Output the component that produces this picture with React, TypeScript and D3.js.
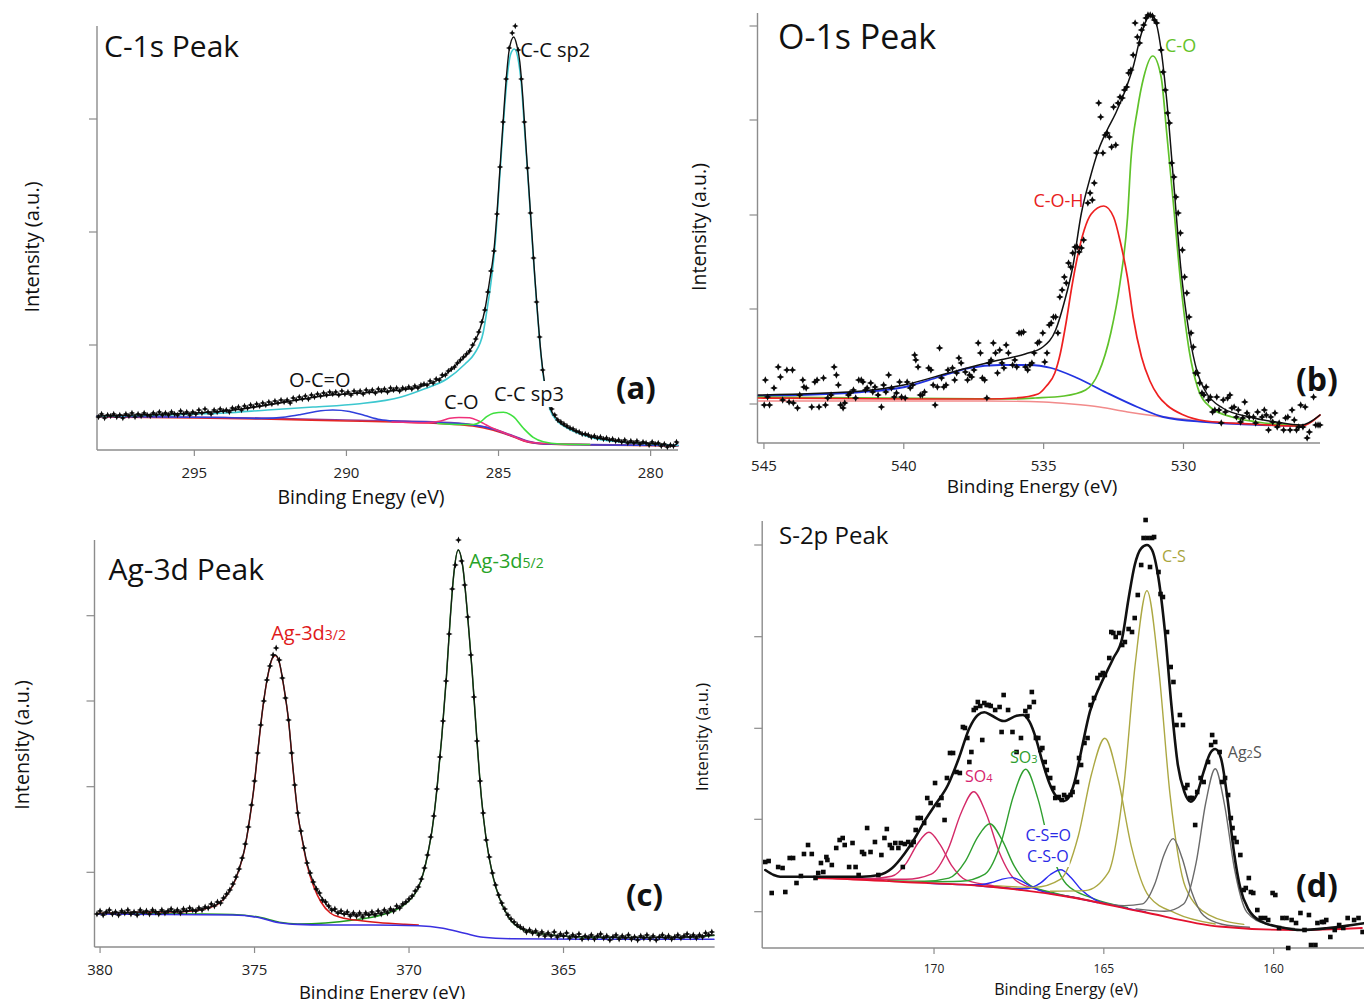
import React, { useEffect, useRef } from "react";
import * as d3 from "d3";

type Pt = [number, number];

const FONT = "'Open Sans', 'Noto Sans', 'DejaVu Sans', sans-serif";

/* ================= (a) C 1s ================= */
const c1sTickEnergies = [295, 290, 285, 280];
const c1sTickLevels = [105, 218, 331];

const c1sScan: Pt[] = [
  [298.15,33],[298.05,36],[297.95,32],[297.85,35],[297.75,34],[297.65,36],[297.55,33],[297.45,35],[297.35,32],[297.25,36],
  [297.15,34],[297.05,37],[296.95,33],[296.85,36],[296.75,34],[296.65,37],[296.55,35],[296.45,34],[296.35,37],[296.25,35],
  [296.15,38],[296.05,35],[295.95,37],[295.85,35],[295.75,38],[295.65,36],[295.55,35],[295.45,39],[295.35,36],[295.25,38],
  [295.15,35],[295.05,38],[294.95,36],[294.85,40],[294.75,37],[294.65,41],[294.55,38],[294.45,36],[294.35,40],[294.25,38],
  [294.15,41],[294.05,39],[293.95,40],[293.85,38],[293.75,42],[293.65,41],[293.55,43],[293.45,40],[293.35,44],[293.25,42],
  [293.15,45],[293.05,43],[292.95,46],[292.85,44],[292.75,47],[292.65,45],[292.55,48],[292.45,46],[292.35,49],[292.25,47],
  [292.15,50],[292.05,48],[291.95,50],[291.85,47],[291.75,52],[291.65,50],[291.55,53],[291.45,51],[291.35,54],[291.25,51],
  [291.15,55],[291.05,53],[290.95,56],[290.85,54],[290.75,57],[290.65,55],[290.55,58],[290.45,56],[290.35,58],[290.25,55],
  [290.15,59],[290.05,56],[289.95,58],[289.85,55],[289.75,59],[289.65,57],[289.55,59],[289.45,56],[289.35,60],[289.25,58],
  [289.15,60],[289.05,57],[288.95,61],[288.85,59],[288.75,61],[288.65,58],[288.55,62],[288.45,60],[288.35,62],[288.25,59],
  [288.15,62],[288.05,61],[287.95,63],[287.85,61],[287.75,64],[287.65,62],[287.55,65],[287.45,66],[287.35,65],[287.25,69],
  [287.15,67],[287.05,71],[286.95,70],[286.85,75],[286.75,75],[286.65,79],[286.55,81],[286.45,83],[286.35,87],[286.25,90],
  [286.15,93],[286.05,96],[285.95,99],[285.85,105],[285.75,111],[285.65,118],[285.55,128],[285.45,140],[285.35,158],[285.25,179],
  [285.15,199],[285.05,236],[284.95,283],[284.85,328],[284.75,371],[284.65,402],[284.55,417],[284.45,424],[284.35,400],[284.25,371],
  [284.15,328],[284.05,282],[283.95,237],[283.85,192],[283.75,148],[283.65,113],[283.55,80],[283.45,62],[283.35,48],[283.25,41],
  [283.15,35],[283.05,30],[282.95,28],[282.85,26],[282.75,24],[282.65,22],[282.55,21],[282.45,19],[282.35,18],[282.25,16],
  [282.15,16],[282.05,15],[281.95,13],[281.85,14],[281.75,12],[281.65,13],[281.55,11],[281.45,12],[281.35,10],[281.25,11],
  [281.15,9],[281.05,10],[280.95,8],[280.85,10],[280.75,7],[280.65,9],[280.55,7],[280.45,9],[280.35,6],[280.25,8],
  [280.15,7],[280.05,5],[279.95,8],[279.85,6],[279.75,7],[279.65,4],[279.55,6],[279.45,3],[279.35,5],[279.25,4],[279.15,8],
];

const c1sEnvelope: Pt[] = [
  [298.2,34],[297,35],[296,36],[295,37],[294,39],[293,43],[292,48],[291,53],[290.5,55],[290,56],[289,58],[288,61],
  [287.5,64],[287,70],[286.6,79],[286.3,88],[286,97],[285.8,107],[285.6,122],[285.45,140],[285.3,168],[285.15,200],
  [285.05,237],[284.95,283],[284.85,328],[284.75,370],[284.65,400],[284.5,413],[284.4,405],[284.3,388],[284.2,352],
  [284.1,305],[284,260],[283.9,215],[283.8,170],[283.7,130],[283.6,95],[283.5,70],[283.4,54],[283.3,42],[283.1,32],
  [283,28],[282.7,22],[282.4,18],[281.9,13],[281.3,10],[280.8,8],[280.2,7],[279.7,6],[279.3,4],[279.1,7],
];
const c1sSp2: Pt[] = [
  [298.2,33.5],[296,35],[294,37],[292.6,40],[291.1,43],[289.65,46],[288.2,53],[287.45,61],[286.7,71],[286.1,86],
  [285.8,96],[285.5,118],[285.37,142],[285.23,172],[285.1,210],[285,255],[284.9,300],[284.8,343],[284.7,377],
  [284.6,396],[284.48,401],[284.35,390],[284.25,366],[284.15,323],[284.05,280],[283.95,235],[283.85,190],[283.75,148],
  [283.65,110],[283.55,80],[283.45,58],[283.3,40],[283.1,30],[282.8,23],[282.4,17],[281.9,12],[281,8],[280,6],[279.1,4.5],
];
const c1sSp3: Pt[] = [
  [287,26.5],[286.2,25.5],[285.83,25.5],[285.6,28],[285.39,33.3],[285.17,36.7],[284.84,37.7],[284.51,33.3],
  [284.18,21.7],[283.86,12.7],[283.53,8.3],[282.98,6],[282,5.5],
];
const c1sCO: Pt[] = [
  [288.5,28],[287.4,27.3],[286.9,29],[286.6,31.8],[286.3,32.5],[285.95,32.3],[285.65,29],[285.4,25],[285.17,21.5],
  [284.8,17],[284.5,13.5],[284.05,8.5],[283.5,6.5],[282,5.5],
];
const c1sOCO: Pt[] = [
  [298.2,33.5],[294,32.5],[292.8,31.5],[292,33],[291.5,35.5],[291,38.5],[290.45,40],[289.9,38.5],[289.4,34.5],
  [288.9,30.5],[288.45,29],[287.5,28],[286.7,27],[285.85,25],[285.2,21],[284.5,13.5],[284.05,8.5],[283.5,6],[279.1,4.5],
];
const c1sBackground: Pt[] = [
  [298.2,33],[295,32],[292.8,31],[290,29],[288.45,28],[286.7,26],[285.85,24],[285.2,20],[284.5,13],[284.05,8],
  [283.5,6],[281.9,5],[279.1,4],
];
const c1sBackground2: Pt[] = [
  [298.2,34],[292.8,32],[290,30],[287,28],[286,26],[285.2,21.5],[284.5,14],[284.05,9],[283.5,6.5],[281.9,5.5],[279.1,4.5],
];

/* ================= (b) O 1s ================= */
const o1sTickEnergies = [545, 540, 535, 530];
const o1sTickLevels = [39, 134, 228, 323, 417];

const o1sScan: Pt[] = [
  [544.95,63],[544.87,46],[544.99,38],[544.8,38],[544.64,55],[544.49,76],[544.41,66],[544.33,43],[544.18,73],[544.1,41],
  [543.98,73],[543.95,40],[543.8,35],[543.72,48],[543.61,63],[543.57,56],[543.49,55],[543.29,36],[543.18,61],[543.1,63],
  [543.03,36],[542.87,65],[542.8,38],[542.72,45],[542.6,48],[542.49,76],[542.41,68],[542.34,58],[542.26,38],[542.17,35],
  [542.11,40],[541.98,48],[541.92,50],[541.8,53],[541.72,45],[541.61,63],[541.52,63],[541.46,61],[541.37,53],[541.31,55],
  [541.18,60],[541.11,51],[541.03,56],[540.92,48],[540.8,36],[540.72,58],[540.64,51],[540.54,68],[540.44,55],[540.34,46],
  [540.26,50],[540.15,61],[540.08,46],[539.95,45],[539.88,61],[539.77,55],[539.68,58],[539.61,88],[539.57,83],[539.49,76],
  [539.41,48],[539.34,48],[539.26,51],[539.11,75],[539.03,73],[538.95,58],[538.88,38],[538.8,56],[538.72,95],[538.65,65],
  [538.57,56],[538.49,58],[538.42,73],[538.26,75],[538.18,63],[538.11,70],[538.03,85],[537.95,80],[537.8,71],[537.72,63],
  [537.65,68],[537.57,66],[537.49,73],[537.34,100],[537.26,90],[537.19,65],[537.11,63],[537.03,45],[536.95,80],[536.88,83],
  [536.8,100],[536.72,90],[536.65,70],[536.57,93],[536.49,80],[536.42,75],[536.34,98],[536.26,90],[536.11,78],[536.03,83],
  [535.96,76],[535.88,110],[535.8,110],[535.72,111],[535.65,76],[535.57,73],[535.49,78],[535.42,80],[535.34,90],[535.22,100],
  [535.16,101],[535.03,110],[534.96,81],[534.88,90],[534.8,118],[534.73,120],[534.65,126],[534.57,126],[534.49,110],[534.42,146],
  [534.34,153],[534.26,166],[534.19,160],[534.11,180],[534.03,176],[533.96,190],[533.88,196],[533.8,196],[533.73,191],[533.65,195],
  [533.57,203],[533.42,240],[533.34,250],[533.26,243],[533.19,260],[533.11,290],[533.03,340],[532.96,326],[532.88,290],[532.8,308],
  [532.73,310],[532.65,306],[532.57,296],[532.5,336],[532.42,298],[532.34,340],[532.27,346],[532.19,345],[532.11,353],[532.03,356],
  [531.96,370],[531.88,373],[531.8,388],[531.73,420],[531.65,406],[531.57,400],[531.5,413],[531.42,418],[531.34,425],[531.27,428],
  [531.19,428],[531.11,427],[531.04,423],[530.96,420],[530.8,393],[530.73,371],[530.65,353],[530.57,330],[530.5,320],[530.42,280],
  [530.34,266],[530.27,246],[530.19,230],[530.11,210],[530.04,193],[529.96,166],[529.88,150],[529.8,126],[529.73,110],[529.65,96],
  [529.57,70],[529.5,70],[529.42,60],[529.34,50],[529.27,48],[529.19,56],[529.11,43],[529.04,46],[528.96,31],[528.88,33],
  [528.81,46],[528.73,33],[528.65,20],[528.58,43],[528.5,31],[528.42,45],[528.34,48],[528.27,35],[528.19,36],[528.11,26],
  [528.04,33],[527.96,21],[527.88,25],[527.81,41],[527.73,30],[527.65,26],[527.5,26],[527.42,20],[527.35,31],[527.19,26],
  [527.11,33],[527.04,28],[526.96,13],[526.88,26],[526.81,21],[526.73,30],[526.65,16],[526.58,20],[526.42,13],[526.35,25],
  [526.27,26],[526.19,13],[526.12,33],[526.04,23],[525.96,13],[525.88,16],[525.81,38],[525.73,16],[525.65,36],[525.58,5],
  [525.5,11],[525.35,46],[525.27,18],[525.19,18],[525.12,18],
];
const o1sEnvelope: Pt[] = [
  [545.2,48],[541.5,52],[540,58],[538.4,70],[536.9,81],[535.66,89],[535.03,96],[534.57,113],[534.27,140],[533.96,176],
  [533.65,230],[533.33,266],[533.04,293],[532.73,313],[532.42,330],[532.12,350],[531.8,376],[531.5,410],[531.2,427],
  [531.05,425],[530.8,393],[530.6,343],[530.35,260],[530.1,176],[529.8,110],[529.5,70],[529.2,51],[528.6,35],
  [527.65,26],[526.7,21],[525.8,18],[525.12,28],
];
const o1sCOH: Pt[] = [
  [545.2,45],[540,44],[537,44],[536,45],[535.2,49],[534.9,57],[534.6,70],[534.4,90],[534.2,120],[534,155],[533.8,185],
  [533.55,213],[533.3,229],[532.85,237],[532.5,226],[532.25,200],[532,165],[531.8,126],[531.5,86],[531.2,62],[530.9,47],
  [530.6,38],[530,28],[529.2,22],[527.6,19],[525.8,17],[525.12,28],
];
const o1sCO: Pt[] = [
  [545.2,46],[536.27,44],[535.3,45],[534.27,47],[533.5,53],[533.04,70],[532.6,110],[532.27,160],[532,226],[531.88,283],
  [531.65,333],[531.42,366],[531.1,387],[530.8,366],[530.6,310],[530.35,236],[530.1,160],[529.8,93],[529.5,56],
  [529.05,36],[528.27,26],[527.36,21],[525.8,17],
];
const o1sBroad: Pt[] = [
  [545.2,47],[541.5,51],[539.96,56],[538.74,66],[537.66,75],[536.57,78],[535.5,78],[534.73,75],[533.8,65],[532.73,50],
  [531.65,36],[530.72,26],[529.2,21],[525.8,17],
];
const o1sBackground: Pt[] = [
  [545.2,42],[537,42],[535,41],[534,39],[533,36],[532,31],[531,27],[530,24],[529,21],[528,19],[527,18],[525.8,17],
];

/* ================= (c) Ag 3d ================= */
const ag3dTickEnergies = [380, 375, 370, 365];
const ag3dTickLevels = [74.7, 160.3, 246, 331.3];

const ag3dScan: Pt[] = [
  [380.1,33],[380,36],[379.9,32],[379.8,35],[379.7,37],[379.6,33],[379.5,35],[379.4,32],[379.3,36],[379.2,34],
  [379.1,37],[379,33],[378.9,35],[378.8,32],[378.7,37],[378.6,34],[378.5,36],[378.4,33],[378.3,37],[378.2,35],
  [378.1,33],[378,37],[377.9,34],[377.8,36],[377.7,38],[377.6,35],[377.5,37],[377.4,34],[377.3,38],[377.2,36],
  [377.1,39],[377,37],[376.9,36],[376.8,39],[376.7,37],[376.6,40],[376.5,39],[376.4,43],[376.3,41],[376.2,45],
  [376.1,44],[376,49],[375.9,53],[375.8,57],[375.7,63],[375.6,70],[375.5,78],[375.4,89],[375.3,103],[375.2,120],
  [375.1,142],[375,166],[374.9,194],[374.8,222],[374.7,246],[374.6,267],[374.5,281],[374.4,292],[374.3,299],[374.2,287],
  [374.1,269],[374,249],[373.9,227],[373.8,194],[373.7,162],[373.6,134],[373.5,116],[373.4,99],[373.3,84],[373.2,74],
  [373.1,65],[373,58],[372.9,54],[372.8,47],[372.7,45],[372.6,41],[372.5,37],[372.4,38],[372.3,34],[372.2,36],
  [372.1,33],[372,35],[371.9,31],[371.8,34],[371.7,31],[371.6,34],[371.5,30],[371.4,34],[371.3,32],[371.2,35],
  [371.1,32],[371,36],[370.9,33],[370.8,37],[370.7,34],[370.6,38],[370.5,36],[370.4,41],[370.3,39],[370.2,43],
  [370.1,45],[370,48],[369.9,51],[369.8,56],[369.7,60],[369.6,68],[369.5,79],[369.4,92],[369.3,110],[369.2,131],
  [369.1,158],[369,190],[368.9,226],[368.8,266],[368.7,313],[368.6,358],[368.5,382],[368.4,407],[368.3,386],[368.2,362],
  [368.1,330],[368,292],[367.9,250],[367.8,206],[367.7,166],[367.6,134],[367.5,107],[367.4,90],[367.3,74],[367.2,62],
  [367.1,52],[367,44],[366.9,38],[366.8,32],[366.7,28],[366.6,25],[366.5,22],[366.4,20],[366.3,18],[366.2,15],
  [366.1,17],[366,14],[365.9,16],[365.8,12],[365.7,15],[365.6,11],[365.5,14],[365.4,11],[365.3,15],[365.2,10],
  [365.1,13],[365,11],[364.9,14],[364.8,9],[364.7,12],[364.6,10],[364.5,13],[364.4,8],[364.3,11],[364.2,9],
  [364.1,12],[364,8],[363.9,11],[363.8,13],[363.7,9],[363.6,11],[363.5,7],[363.4,10],[363.3,12],[363.2,8],
  [363.1,11],[363,9],[362.9,12],[362.8,8],[362.7,10],[362.6,7],[362.5,11],[362.4,9],[362.3,12],[362.2,8],
  [362.1,11],[362,7],[361.9,10],[361.8,12],[361.7,9],[361.6,11],[361.5,8],[361.4,10],[361.3,12],[361.2,9],
  [361.1,11],[361,13],[360.9,10],[360.8,12],[360.7,9],[360.6,12],[360.5,10],[360.4,14],[360.3,12],[360.2,15],
];
const ag3dEnvelope: Pt[] = [
  [380.07,33.7],[378.72,35],[377.21,36],[376.61,38.7],[376.16,43.7],[375.86,53.7],[375.63,67],[375.48,80],[375.33,97],
  [375.18,123.7],[375.03,157],[374.88,200],[374.73,240],[374.58,270],[374.43,288.7],[374.33,292],[374.2,285],[374.05,260],
  [373.9,227],[373.75,177],[373.6,133.7],[373.45,107],[373.3,83.7],[373.08,63.7],[372.85,50.3],[372.55,38.7],[372.1,33],
  [371.5,32],[370.74,35.3],[370.29,40.3],[369.99,47],[369.69,60.3],[369.54,73.7],[369.39,93.7],[369.24,120.3],
  [369.09,160.3],[368.94,210.3],[368.79,270.3],[368.67,327],[368.56,370.3],[368.41,397],[368.26,380.3],[368.11,333.7],
  [367.96,277],[367.81,210.3],[367.66,150.3],[367.5,107],[367.28,70.3],[367.05,47],[366.75,28.7],[366.38,18.7],
  [365.78,13.7],[364.42,10.3],[362.92,9.7],[361.41,9.7],[360.13,12],
];
const ag3d32: Pt[] = [
  [380.07,33.5],[378.72,34.8],[377.21,35.6],[376.61,38.3],[376.16,43.3],[375.86,53.3],[375.63,66.6],[375.48,79.6],
  [375.33,96.6],[375.18,123.3],[375.03,156.6],[374.88,199.6],[374.73,239.6],[374.58,269.6],[374.43,288.3],[374.33,291.6],
  [374.2,284.6],[374.05,259.6],[373.9,226.5],[373.75,176.5],[373.6,133],[373.45,106],[373.3,82],[373.08,60],[372.85,45],
  [372.55,34],[372.2,29.5],[371.6,26.5],[371,24.5],[370.14,22.7],[369.7,22],
];
const ag3d52: Pt[] = [
  [380.07,33.5],[377,33],[375.7,32.5],[374.8,29.5],[374.2,24.8],[373.6,23],[372.7,24],[371.8,27],[370.9,32],
  [370.29,39.5],[369.99,46.5],[369.69,60],[369.54,73.5],[369.39,93.5],[369.24,120],[369.09,160],[368.94,210],
  [368.79,270],[368.67,327],[368.56,370],[368.41,397],[368.26,380],[368.11,333.5],[367.96,277],[367.81,210],
  [367.66,150],[367.5,107],[367.28,70],[367.05,47],[366.75,28.5],[366.38,18.5],[365.78,13.5],[364.42,10],
  [362.92,9.5],[361.41,9.5],[360.13,11.5],
];
const ag3dBackground: Pt[] = [
  [380.07,33],[375.71,32],[374.8,29],[374.4,25.5],[374.2,24.3],[373.6,22.6],[372.7,22],[371.2,22],[369.69,21.3],
  [368.9,18.7],[368.2,13.7],[367.6,9.7],[366.7,8.3],[363.67,7.7],[360.13,7.7],
];

/* ================= (d) S 2p ================= */
const s2pTickEnergies = [170, 165, 160];
const s2pTickLevels = [36.3, 128.7, 219.7, 311.3, 403];

const s2pScan: Pt[] = [
  [174.97,86],[174.87,87],[174.78,55],[174.59,81],[174.46,80],[174.38,56],[174.25,90],[174.15,90],[174.05,65],[173.92,72],
  [173.83,94],[173.71,103],[173.6,94],[173.49,70],[173.41,75],[173.33,85],[173.26,76],[173.17,91],[173.14,88],[173.01,83],
  [172.88,100],[172.78,108],[172.69,110],[172.63,103],[172.5,81],[172.4,105],[172.31,81],[172.22,73],[172.12,96],[172.06,94],
  [171.97,120],[171.87,96],[171.74,106],[171.64,73],[171.55,93],[171.46,110],[171.39,119],[171.3,103],[171.24,100],[171.14,105],
  [171.05,100],[170.98,105],[170.92,81],[170.86,104],[170.76,106],[170.67,103],[170.6,106],[170.54,118],[170.48,130],[170.39,130],
  [170.29,125],[170.2,150],[170.1,145],[169.97,165],[169.87,143],[169.78,150],[169.69,128],[169.62,170],[169.53,195],[169.44,195],
  [169.34,176],[169.24,175],[169.15,221],[169.09,220],[169.02,210],[168.96,186],[168.9,196],[168.83,238],[168.77,240],[168.71,246],
  [168.64,242],[168.58,208],[168.52,245],[168.45,243],[168.39,243],[168.33,242],[168.2,238],[168.07,241],[168.01,216],[167.95,253],
  [167.82,238],[167.69,216],[167.57,196],[167.44,210],[167.31,237],[167.25,232],[167.19,241],[167.12,256],[167.06,246],[167,210],
  [166.93,210],[166.87,198],[166.81,200],[166.74,186],[166.68,178],[166.58,170],[166.49,160],[166.43,150],[166.33,151],[166.24,148],
  [166.17,153],[166.09,151],[165.98,153],[165.92,156],[165.79,166],[165.73,190],[165.67,183],[165.57,205],[165.48,210],[165.39,243],
  [165.29,250],[165.19,270],[165.1,273],[165.03,275],[164.97,273],[164.84,290],[164.78,316],[164.72,315],[164.65,311],[164.55,315],
  [164.46,303],[164.38,306],[164.27,319],[164.17,316],[164.09,330],[164,353],[163.9,383],[163.83,410],[163.77,428],[163.71,410],
  [163.64,381],[163.58,410],[163.52,411],[163.39,376],[163.33,354],[163.26,351],[163.14,316],[163.03,281],[162.95,266],[162.86,223],
  [162.76,233],[162.67,223],[162.6,160],[162.54,163],[162.46,150],[162.4,150],[162.31,123],[162.25,156],[162.15,170],[162.06,166],
  [161.93,186],[161.84,203],[161.81,213],[161.72,206],[161.59,196],[161.52,166],[161.43,170],[161.34,153],[161.26,130],[161.21,120],
  [161.16,110],[161.09,106],[160.98,93],[160.88,58],[160.82,60],[160.73,70],[160.67,56],[160.6,55],[160.48,38],[160.38,30],
  [160.25,30],[160.16,28],[160.03,55],[159.95,53],[159.84,20],[159.74,30],[159.62,30],[159.57,0],[159.47,28],[159.34,25],
  [159.21,35],[159.09,18],[158.96,33],[158.9,3],[158.77,3],[158.71,25],[158.58,26],[158.52,26],[158.45,28],[158.33,11],
  [158.2,18],[158.07,23],[157.95,20],[157.82,30],[157.63,28],[157.5,30],[157.38,16],
];
const s2pEnvelope: Pt[] = [
  [174.97,78],[174.72,73],[174.53,71.3],[172.12,71.3],[171.62,73],[171.24,79.7],[170.86,94.7],[170.6,108],[170.29,126.3],
  [169.97,143],[169.59,163],[169.27,189.7],[168.96,219.7],[168.71,233],[168.52,235.7],[168.33,233],[167.95,227],
  [167.57,232.3],[167.38,233],[167.19,226.3],[167,209.7],[166.81,186.3],[166.62,166.3],[166.43,153],[166.17,147],
  [166.05,149.7],[165.86,166.3],[165.67,196.3],[165.41,236.3],[165.1,263],[164.72,289.7],[164.46,309.7],[164.27,349.7],
  [164.09,383],[163.9,399.7],[163.73,403],[163.58,398],[163.39,369.7],[163.2,316.3],[163.01,243],[162.82,183],
  [162.63,156.3],[162.44,146.3],[162.27,153],[162.06,176.3],[161.87,194.7],[161.72,199],[161.55,189.7],[161.36,149.7],
  [161.17,96.3],[160.98,59.7],[160.73,38],[160.35,26.3],[159.72,20.3],[159.21,18],[158.45,19.7],[157.69,23],[157.34,24.7],
];
const s2pSO4: Pt[] = [
  [171.96,68.7],[170.83,68.7],[170.08,73.9],[169.58,99.3],[169.2,135.3],[168.83,156.3],[168.46,134],[168.08,95.8],
  [167.58,67.3],[166.83,57.5],[165.7,49.7],
];
const s2pSO4b: Pt[] = [
  [172.9,69.8],[171.91,69.2],[171.25,71.7],[170.81,85.2],[170.48,104.5],[170.15,115.7],[169.82,103.4],[169.49,82.9],
  [169.05,67.8],[168.39,63],[167.4,57.7],
];
const s2pSO3: Pt[] = [
  [170.3,66.1],[169.22,66.7],[168.5,73.9],[168.02,106.2],[167.66,152.2],[167.3,178.7],[166.94,149.1],[166.58,100],
  [166.1,63.7],[165.38,50.3],[164.3,40.4],
];
const s2pSO3b: Pt[] = [
  [171.36,67.4],[170.28,66.8],[169.56,69.9],[169.08,86.6],[168.72,110.6],[168.36,124.3],[168,108.3],[167.64,82.1],
  [167.16,62.4],[166.44,54.9],[165.36,47.1],
];
const s2pCSO: Pt[] = [
  [168.77,62.5],[167.87,60],[167.27,59.2],[166.87,64.8],[166.57,73.5],[166.27,78.2],[165.97,70.6],[165.67,58.5],
  [165.27,48.4],[164.67,42.5],[163.77,36],
];
const s2pCSOb: Pt[] = [
  [170.19,64.8],[169.29,63.5],[168.69,63.2],[168.29,65.6],[167.99,68.9],[167.69,70.4],[167.39,66.3],[167.09,60.4],
  [166.69,55.3],[166.09,51.8],[165.19,45.4],
];
const s2pCS: Pt[] = [
  [166.58,56.8],[165.55,57.4],[164.87,75.3],[164.41,162.4],[164.07,285.6],[163.73,357.4],[163.39,281.1],[163.05,153.3],
  [162.59,60.2],[161.91,33.2],[160.88,23.6],
];
const s2pCSb: Pt[] = [
  [168.22,62.4],[167.05,60.6],[166.27,68.8],[165.75,112.2],[165.36,174.3],[164.97,209.8],[164.58,169],[164.19,101.6],
  [163.67,51.6],[162.89,34.9],[161.72,24],
];
const s2pAg2S: Pt[] = [
  [164.05,39.1],[163.21,36.7],[162.65,44],[162.28,85.6],[162,145],[161.72,179.3],[161.44,142.1],[161.16,80.5],
  [160.79,35.9],[160.23,24],[159.39,19.6],
];
const s2pAg2Sb: Pt[] = [
  [165.21,46.1],[164.4,42.4],[163.86,44.1],[163.5,63.9],[163.23,92.9],[162.96,109.4],[162.69,89.4],[162.42,56.8],
  [162.06,32.4],[161.52,23.8],[160.71,20.8],
];
const s2pBackground: Pt[] = [
  [173.5,70],[173,69.5],[170.9,66],[168.4,61.5],[166.1,51.5],[163.9,36.5],[161.6,21.5],[159.4,18],[157.4,20],
];

/* ================= drawing ================= */
interface Trace { data: Pt[]; color: string; width: number; }
interface Part { t: string; small?: boolean; }
interface PeakLabel { parts: Part[]; at: Pt; color: string; size: number; anchor?: string; box?: boolean; }
interface Caption { text: string; x: number; y: number; size: number; bold?: boolean; anchor?: string; rotate?: boolean; }
interface PanelSpec {
  left: number; right: number; top: number; bottom: number;
  xDomain: [number, number]; yDomain: [number, number];
  xTicks: number[]; yTicks: number[];
  tickFont: number; tickBaseline: number;
  traces: Trace[];
  scan: Pt[]; marker: "star" | "square"; markerSize: number;
  captions: Caption[];
  labels: PeakLabel[];
}

const panels: PanelSpec[] = [
  {
    left: 97, right: 678, top: 26, bottom: 450,
    xDomain: [298.2, 279.1], yDomain: [0, 424],
    xTicks: c1sTickEnergies, yTicks: c1sTickLevels, tickFont: 15, tickBaseline: 478,
    traces: [
      { data: c1sBackground2, color: "#8a3fa6", width: 1.6 },
      { data: c1sBackground, color: "#e42626", width: 1.6 },
      { data: c1sOCO, color: "#3040dc", width: 1.6 },
      { data: c1sCO, color: "#f0307a", width: 1.6 },
      { data: c1sSp3, color: "#3fe03f", width: 1.6 },
      { data: c1sSp2, color: "#3cc7cf", width: 1.6 },
      { data: c1sEnvelope, color: "#111", width: 1.4 },
    ],
    scan: c1sScan, marker: "star", markerSize: 3.2,
    captions: [
      { text: "C-1s Peak", x: 104, y: 57, size: 30 },
      { text: "(a)", x: 616, y: 399, size: 31, bold: true },
      { text: "Binding Enegy (eV)", x: 361, y: 504, size: 19.5, anchor: "middle" },
      { text: "Intensity (a.u.)", x: 39, y: 247, size: 20, anchor: "middle", rotate: true },
    ],
    labels: [
      { parts: [{ t: "C-C sp2" }], at: [284.29, 393], color: "#111", size: 20 },
      { parts: [{ t: "O-C=O" }], at: [291.89, 63], color: "#111", size: 20 },
      { parts: [{ t: "C-O" }], at: [286.79, 41], color: "#111", size: 20 },
      { parts: [{ t: "C-C sp3" }], at: [285.15, 49], color: "#111", size: 20, box: true },
    ],
  },
  {
    left: 757.5, right: 1320, top: 13, bottom: 443,
    xDomain: [545.23, 525.12], yDomain: [0, 430],
    xTicks: o1sTickEnergies, yTicks: o1sTickLevels, tickFont: 15, tickBaseline: 471,
    traces: [
      { data: o1sBackground, color: "#f28b8b", width: 1.3 },
      { data: o1sBroad, color: "#2233e0", width: 1.8 },
      { data: o1sCO, color: "#5fc22a", width: 1.7 },
      { data: o1sCOH, color: "#ee2020", width: 1.7 },
      { data: o1sEnvelope, color: "#111", width: 1.5 },
    ],
    scan: o1sScan, marker: "star", markerSize: 3.8,
    captions: [
      { text: "O-1s Peak", x: 778, y: 49, size: 34 },
      { text: "(b)", x: 1296, y: 391, size: 32, bold: true },
      { text: "Binding Energy (eV)", x: 1032, y: 493, size: 19, anchor: "middle" },
      { text: "Intensity (a.u.)", x: 706, y: 227, size: 19.5, anchor: "middle", rotate: true },
    ],
    labels: [
      { parts: [{ t: "C-O" }], at: [530.66, 391], color: "#63c22a", size: 18 },
      { parts: [{ t: "C-O-H" }], at: [533.57, 236], color: "#e82020", size: 18, anchor: "end" },
    ],
  },
  {
    left: 94.5, right: 714.6, top: 540, bottom: 947,
    xDomain: [380.18, 360.11], yDomain: [0, 407],
    xTicks: ag3dTickEnergies, yTicks: ag3dTickLevels, tickFont: 15, tickBaseline: 975,
    traces: [
      { data: ag3d52, color: "#1f9a1f", width: 1.5 },
      { data: ag3d32, color: "#d81818", width: 1.5 },
      { data: ag3dBackground, color: "#3a30e0", width: 1.6 },
      { data: ag3dEnvelope, color: "#1a1a1a", width: 1.3 },
    ],
    scan: ag3dScan, marker: "star", markerSize: 3.4,
    captions: [
      { text: "Ag-3d Peak", x: 108.5, y: 580, size: 30 },
      { text: "(c)", x: 626, y: 906, size: 31, bold: true },
      { text: "Binding Energy (eV)", x: 382, y: 999, size: 18.5, anchor: "middle" },
      { text: "Intensity (a.u.)", x: 29, y: 745, size: 19.8, anchor: "middle", rotate: true },
    ],
    labels: [
      { parts: [{ t: "Ag-3d" }, { t: "3/2", small: true }], at: [374.46, 307], color: "#e0191b", size: 20 },
      { parts: [{ t: "Ag-3d" }, { t: "5/2", small: true }], at: [368.06, 379], color: "#27a327", size: 20 },
    ],
  },
  {
    left: 762.2, right: 1375.5, top: 521, bottom: 948,
    xDomain: [175.06, 157.0], yDomain: [0, 427],
    xTicks: s2pTickEnergies, yTicks: s2pTickLevels, tickFont: 12, tickBaseline: 973,
    traces: [
      { data: s2pSO4b, color: "#d42a68", width: 1.4 },
      { data: s2pSO4, color: "#d42a68", width: 1.4 },
      { data: s2pSO3b, color: "#2f9f2f", width: 1.4 },
      { data: s2pSO3, color: "#2f9f2f", width: 1.4 },
      { data: s2pCSOb, color: "#2b2bf0", width: 1.4 },
      { data: s2pCSO, color: "#2b2bf0", width: 1.4 },
      { data: s2pCSb, color: "#aca843", width: 1.4 },
      { data: s2pCS, color: "#aca843", width: 1.4 },
      { data: s2pAg2Sb, color: "#6a6a6a", width: 1.4 },
      { data: s2pAg2S, color: "#6a6a6a", width: 1.4 },
      { data: s2pBackground, color: "#e3122e", width: 1.8 },
      { data: s2pEnvelope, color: "#111", width: 2.6 },
    ],
    scan: s2pScan, marker: "square", markerSize: 4.6,
    captions: [
      { text: "S-2p Peak", x: 779, y: 544, size: 24 },
      { text: "(d)", x: 1296, y: 897, size: 32, bold: true },
      { text: "Binding Energy (eV)", x: 1066, y: 995, size: 16, anchor: "middle" },
      { text: "Intensity (a.u.)", x: 708, y: 737, size: 16.5, anchor: "middle", rotate: true },
    ],
    labels: [
      { parts: [{ t: "C-S" }], at: [163.29, 386], color: "#a8a43c", size: 16 },
      { parts: [{ t: "Ag" }, { t: "2", small: true }, { t: "S" }], at: [161.35, 190], color: "#555", size: 16 },
      { parts: [{ t: "SO" }, { t: "4", small: true }], at: [169.09, 166], color: "#d6246e", size: 16 },
      { parts: [{ t: "SO" }, { t: "3", small: true }], at: [167.76, 185], color: "#2e9e2e", size: 16 },
      { parts: [{ t: "C-S=O" }], at: [167.31, 107], color: "#2a2ae6", size: 16, box: true },
      { parts: [{ t: "C-S-O" }], at: [167.26, 86], color: "#2a2ae6", size: 16, box: true },
    ],
  },
];

function starPath(s: number): string {
  const k = s * 0.3;
  return `M0,${-s}L${k},${-k}L${s},0L${k},${k}L0,${s}L${-k},${k}L${-s},0L${-k},${-k}Z`;
}

function drawPanel(svg: d3.Selection<SVGSVGElement, unknown, null, undefined>, p: PanelSpec) {
  const g = svg.append("g").style("font-family", FONT);
  const x = d3.scaleLinear().domain(p.xDomain).range([p.left, p.right]);
  const y = d3.scaleLinear().domain(p.yDomain).range([p.bottom, p.top]);
  const axisColor = "#8c8c8c";

  g.append("line").attr("x1", p.left).attr("x2", p.left).attr("y1", p.top).attr("y2", p.bottom)
    .attr("stroke", axisColor).attr("stroke-width", 1.4);
  g.append("line").attr("x1", p.left).attr("x2", p.right).attr("y1", p.bottom).attr("y2", p.bottom)
    .attr("stroke", axisColor).attr("stroke-width", 1.4);

  g.selectAll("line.xtick").data(p.xTicks).join("line").attr("class", "xtick")
    .attr("x1", (d) => x(d)).attr("x2", (d) => x(d)).attr("y1", p.bottom).attr("y2", p.bottom + 6)
    .attr("stroke", axisColor).attr("stroke-width", 1.2);
  g.selectAll("text.xlab").data(p.xTicks).join("text").attr("class", "xlab")
    .attr("x", (d) => x(d)).attr("y", p.tickBaseline).attr("text-anchor", "middle")
    .attr("fill", "#222").style("font-size", `${p.tickFont}px`).text((d) => String(d));
  g.selectAll("line.ytick").data(p.yTicks).join("line").attr("class", "ytick")
    .attr("x1", p.left - 8).attr("x2", p.left).attr("y1", (d) => y(d)).attr("y2", (d) => y(d))
    .attr("stroke", axisColor).attr("stroke-width", 1.2);

  const line = d3.line<Pt>().x((d) => x(d[0])).y((d) => y(d[1])).curve(d3.curveMonotoneX);
  p.traces.forEach((tr) => {
    g.append("path").attr("d", line(tr.data) ?? "").attr("fill", "none")
      .attr("stroke", tr.color).attr("stroke-width", tr.width)
      .attr("stroke-linejoin", "round").attr("stroke-linecap", "round");
  });

  const s = p.markerSize;
  const shape = p.marker === "star" ? starPath(s) : `M${-s / 2},${-s / 2}h${s}v${s}h${-s}Z`;
  g.selectAll("path.scan").data(p.scan).join("path").attr("class", "scan")
    .attr("d", shape).attr("transform", (d) => `translate(${x(d[0])},${y(d[1])})`)
    .attr("fill", "#0a0a0a");

  p.labels.forEach((l) => {
    const t = g.append("text").attr("x", x(l.at[0])).attr("y", y(l.at[1]))
      .attr("text-anchor", l.anchor ?? "start").attr("fill", l.color).style("font-size", `${l.size}px`);
    l.parts.forEach((part) => {
      const ts = t.append("tspan").text(part.t);
      if (part.small) ts.style("font-size", `${Math.round(l.size * 0.68)}px`);
    });
    if (l.box) {
      const bb = (t.node() as SVGTextElement).getBBox();
      g.insert("rect", () => t.node() as SVGTextElement)
        .attr("x", bb.x - 1).attr("y", bb.y + 1).attr("width", bb.width + 2).attr("height", bb.height - 1)
        .attr("fill", "#fff");
    }
  });

  p.captions.forEach((c) => {
    const t = g.append("text").attr("x", c.x).attr("y", c.y).text(c.text)
      .attr("fill", "#111").attr("text-anchor", c.anchor ?? "start")
      .style("font-size", `${c.size}px`).style("font-weight", c.bold ? 700 : 400);
    if (c.rotate) t.attr("transform", `rotate(-90, ${c.x}, ${c.y})`);
  });
}

export default function App() {
  const ref = useRef<SVGSVGElement>(null);
  useEffect(() => {
    if (!ref.current) return;
    const svg = d3.select(ref.current);
    svg.selectAll("*").remove();
    svg.append("rect").attr("width", 1364).attr("height", 999).attr("fill", "#fff");
    panels.forEach((p) => drawPanel(svg, p));
  }, []);
  return (
    <svg
      ref={ref}
      width={1364}
      height={999}
      style={{ position: "absolute", left: 0, top: 0, overflow: "hidden", background: "#fff" }}
    />
  );
}
